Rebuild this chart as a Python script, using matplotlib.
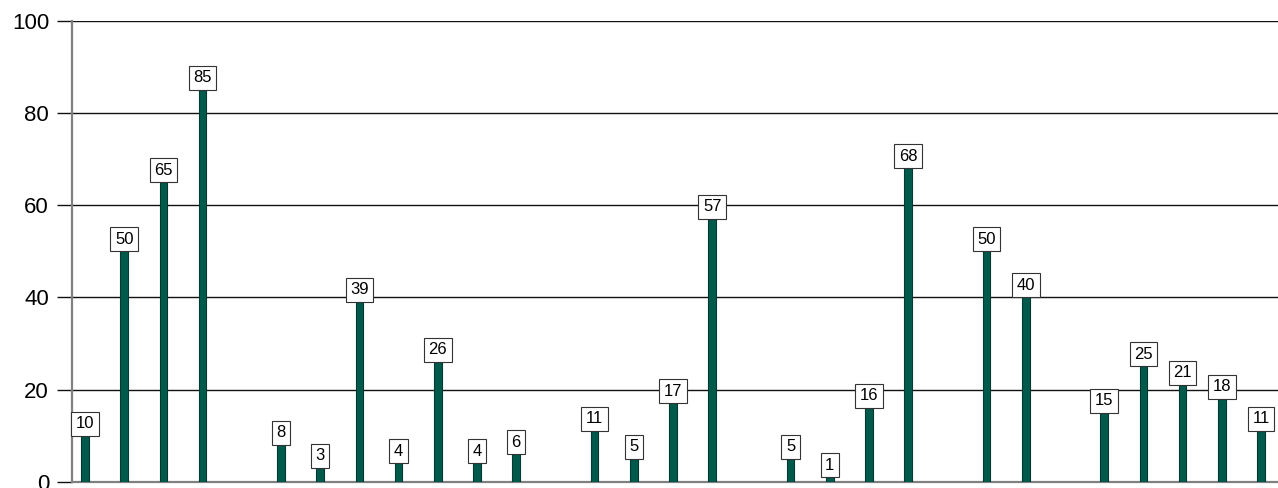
import matplotlib
matplotlib.use("Agg")
import matplotlib.pyplot as plt
import numpy as np

plt.rcParams['font.family'] = ['Liberation Sans', 'DejaVu Sans']

# One slot per position; None leaves the slot empty
values = [10, 50, 65, 85, None, 8, 3, 39, 4, 26, 4, 6, None, 11, 5, 17, 57, None,
          5, 1, 16, 68, None, 50, 40, None, 15, 25, 21, 18, 11]
y_ticks = [0, 20, 40, 60, 80, 100]

bar_color = '#005a4c'
edge_color = '#003a30'

fig = plt.figure(figsize=(12.78, 4.88), dpi=100)
ax = fig.add_axes([72 / 1278, 6.3 / 488, 1 - 72 / 1278, (481.7 - 20.7) / 488])

pos = [i for i, v in enumerate(values) if v is not None]
vals = [v for v in values if v is not None]

ax.set_ylim(0, 100)
ax.set_xlim(-0.332, 30.434)
ax.set_yticks(y_ticks)
ax.set_xticks([])

ax.yaxis.grid(True, color='#111111', linewidth=1.0)
ax.set_axisbelow(True)

ax.bar(pos, vals, width=0.19, color=bar_color, edgecolor=edge_color,
       linewidth=0.8, zorder=3)

label_size = 12
label_pad = 0.27
for x, v in zip(pos, vals):
    ax.annotate(str(v), xy=(x, v), xytext=(0, label_pad * label_size),
                textcoords='offset points', ha='center', va='bottom',
                fontsize=label_size, color='black', zorder=5,
                bbox=dict(boxstyle=f'square,pad={label_pad}', facecolor='white',
                          edgecolor='#333333', linewidth=0.8))

for side in ('top', 'right'):
    ax.spines[side].set_visible(False)
ax.spines['left'].set_color('#808080')
ax.spines['left'].set_linewidth(1.6)
ax.spines['bottom'].set_color('#808080')
ax.spines['bottom'].set_linewidth(1.6)

ax.tick_params(axis='y', length=10.5, width=1.0, color='#111111',
               labelsize=16, pad=6)

fig.savefig('out.png', dpi=100)
